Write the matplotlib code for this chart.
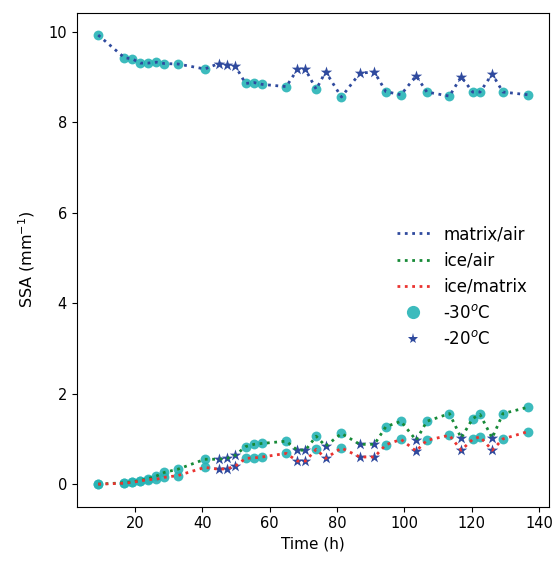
import numpy as np
import matplotlib.pyplot as plt

# sampling times (h)
t30 = [9, 16.8, 19.2, 21.5, 23.8, 26.3, 28.7, 32.7, 40.7, 52.8, 55.3, 57.7, 64.9,
       73.8, 81.3, 94.5, 99, 106.7, 113.4, 120.3, 122.5, 129.3, 136.7]
t20 = [44.8, 47.3, 49.8, 68.2, 70.6, 76.6, 86.8, 91.1, 103.5, 116.9, 126.1]

# SSA values (mm^-1)
matrix_air_30 = [9.93, 9.43, 9.40, 9.31, 9.31, 9.33, 9.30, 9.29, 9.18, 8.86, 8.88, 8.84, 8.79,
                 8.73, 8.56, 8.68, 8.61, 8.67, 8.58, 8.67, 8.67, 8.67, 8.61]
matrix_air_20 = [9.30, 9.27, 9.24, 9.17, 9.17, 9.12, 9.09, 9.11, 9.03, 9.01, 9.07]

ice_air_30 = [0, 0.03, 0.05, 0.08, 0.12, 0.18, 0.26, 0.33, 0.55, 0.83, 0.88, 0.90, 0.95,
              1.06, 1.12, 1.27, 1.39, 1.39, 1.56, 1.45, 1.54, 1.56, 1.70]
ice_air_20 = [0.55, 0.57, 0.64, 0.75, 0.75, 0.84, 0.88, 0.88, 0.97, 1.02, 1.02]

ice_matrix_30 = [0, 0.02, 0.04, 0.07, 0.10, 0.11, 0.15, 0.19, 0.37, 0.57, 0.58, 0.60, 0.68,
                 0.77, 0.80, 0.87, 0.99, 0.97, 1.08, 0.99, 1.05, 1.00, 1.16]
ice_matrix_20 = [0.33, 0.34, 0.40, 0.51, 0.51, 0.57, 0.60, 0.60, 0.73, 0.75, 0.75]

c_blue = '#2f4a9e'
c_green = '#178a37'
c_red = '#ea3330'
c_cyan = '#27b4b6'

fig = plt.figure(figsize=(5.57, 5.63), dpi=100)
ax = fig.add_axes([0.1377, 0.1002, 0.8485, 0.8774])

t_all = np.array(t30 + t20)
order = np.argsort(t_all)

handles = []
for v30, v20, col, lab in [(matrix_air_30, matrix_air_20, c_blue, 'matrix/air'),
                           (ice_air_30, ice_air_20, c_green, 'ice/air'),
                           (ice_matrix_30, ice_matrix_20, c_red, 'ice/matrix')]:
    v_all = np.array(v30 + v20)
    ax.scatter(t30, v30, s=50, color=c_cyan, alpha=0.9, zorder=2, linewidths=0)
    ax.scatter(t20, v20, s=75, marker='*', color=c_blue, zorder=2, linewidths=0)
    ln, = ax.plot(t_all[order], v_all[order], ':', color=col, lw=2, zorder=3, label=lab)
    handles.append(ln)

h30, = ax.plot([], [], 'o', ms=9.5, color=c_cyan, alpha=0.9, mew=0, label='-30$^o$C')
h20, = ax.plot([], [], '*', ms=8, color=c_blue, mew=0, label='-20$^o$C')
handles += [h30, h20]

ax.tick_params(labelsize=10.5)
ax.set_xlabel('Time (h)', fontsize=11)
ax.set_ylabel('SSA (mm$^{-1}$)', fontsize=11.5, labelpad=8)
ax.legend(handles=handles, loc='center right', bbox_to_anchor=(0.985, 0.445),
          frameon=False, fontsize=12)

plt.savefig('out.png', dpi=100)
